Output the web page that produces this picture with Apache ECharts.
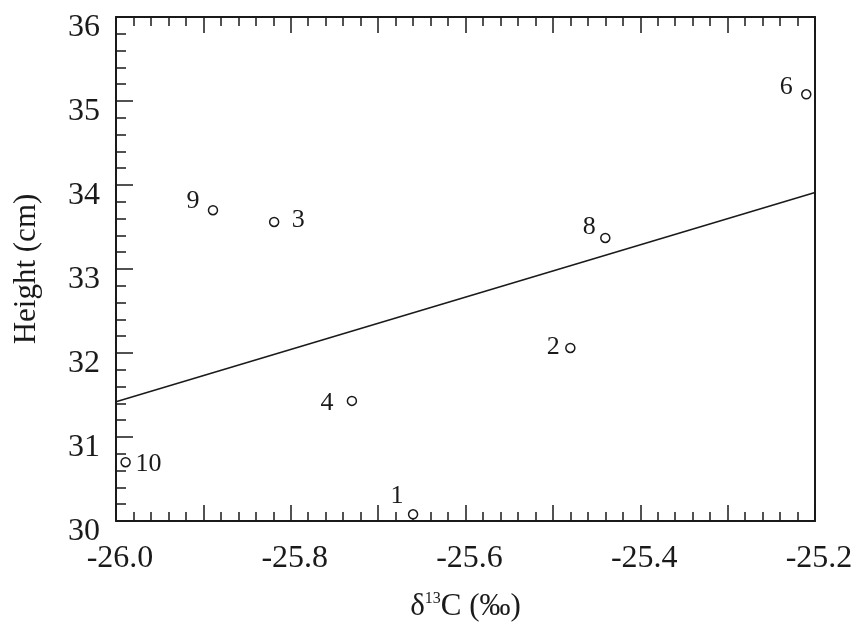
<!DOCTYPE html>
<html>
<head>
<meta charset="utf-8">
<script src="https://cdn.jsdelivr.net/npm/echarts@6/dist/echarts.min.js"></script>
<style>
  html, body { margin: 0; padding: 0; background: #fff; }
  #chart { width: 853px; height: 628px; }
</style>
</head>
<body>
<div id="chart"></div>
<script>
// sample numbers, d13C values and heights
const sampleIds = ['1', '2', '3', '4', '6', '8', '9', '10'];
const d13C = [-25.660, -25.480, -25.819, -25.730, -25.210, -25.440, -25.889, -25.989];
const heights = [30.08, 32.06, 33.56, 31.43, 35.08, 33.37, 33.70, 30.70];

// regression line end points
const fitX = [-26.0, -25.2];
const fitY = [31.42, 33.91];

const FONT = '"Liberation Serif", "Times New Roman", serif';
const INK = '#1a1a1a';

// where each number sits next to its circle
const labelOffsets = {
  '1': [-16, -18],
  '2': [-17, -1],
  '3': [24, -2],
  '4': [-25, 2],
  '6': [-20, -7],
  '8': [-16, -11],
  '9': [-20, -9],
  '10': [23, 2],
};

const chart = echarts.init(document.getElementById('chart'));

const points = sampleIds.map((id, i) => ({
  name: id,
  value: [d13C[i], heights[i]],
  label: { offset: labelOffsets[id] },
}));

const line = fitX.map((x, i) => [x, fitY[i]]);

const axisLine = { show: true, lineStyle: { color: INK, width: 2 } };

const option = {
  animation: false,
  backgroundColor: '#fff',
  grid: { left: 116, right: 38, top: 17, bottom: 107, containLabel: false, outerBoundsMode: 'none' },
  xAxis: [
    {
      type: 'value',
      min: -26.0,
      max: -25.2,
      interval: 0.1,
      position: 'bottom',
      name: '{d|δ}{s|13}{d|C (‰)}',
      nameLocation: 'middle',
      nameGap: 70,
      nameTextStyle: {
        rich: {
          d: { fontFamily: FONT, fontSize: 31, color: INK },
          s: { fontFamily: FONT, fontSize: 16, color: INK, verticalAlign: 'top', padding: [0, 0, 10, 0] },
        },
      },
      axisLine,
      axisTick: { show: true, inside: true, length: 16, lineStyle: { color: INK, width: 1.5 } },
      minorTick: { show: true, splitNumber: 5, length: 9, lineStyle: { color: INK, width: 1.5 } },
      splitLine: { show: false },
      axisLabel: {
        margin: 22,
        color: INK,
        formatter: v => (Math.round(v * 10) % 2 === 0 ? '{t|' + v.toFixed(1) + '}' : ''),
        rich: {
          t: { fontFamily: FONT, fontSize: 32, color: INK, padding: [0, 0, 0, 8] },
        },
      },
    },
    {
      type: 'value',
      min: -26.0,
      max: -25.2,
      interval: 0.1,
      position: 'top',
      axisLine,
      axisTick: { show: true, inside: true, length: 16, lineStyle: { color: INK, width: 1.5 } },
      minorTick: { show: true, splitNumber: 5, length: 9, lineStyle: { color: INK, width: 1.5 } },
      splitLine: { show: false },
      axisLabel: { show: false },
    },
  ],
  yAxis: [
    {
      type: 'value',
      min: 30,
      max: 36,
      interval: 1,
      position: 'left',
      name: 'Height (cm)',
      nameLocation: 'middle',
      nameGap: 74,
      nameTextStyle: { fontFamily: FONT, fontSize: 31, color: INK },
      axisLine,
      axisTick: { show: true, inside: true, length: 17, lineStyle: { color: INK, width: 1.5 } },
      minorTick: { show: true, splitNumber: 5, length: 10, lineStyle: { color: INK, width: 1.5 } },
      splitLine: { show: false },
      axisLabel: {
        margin: 16,
        fontFamily: FONT,
        fontSize: 32,
        color: INK,
        verticalAlign: 'top',
        lineHeight: 22,
      },
    },
    {
      type: 'value',
      min: 30,
      max: 36,
      position: 'right',
      axisLine,
      axisTick: { show: false },
      splitLine: { show: false },
      axisLabel: { show: false },
    },
  ],
  series: [
    {
      type: 'line',
      data: line,
      symbol: 'none',
      lineStyle: { color: INK, width: 1.6 },
      silent: true,
    },
    {
      type: 'scatter',
      data: points,
      symbol: 'circle',
      symbolSize: 9,
      itemStyle: { color: '#fff', borderColor: INK, borderWidth: 1.5, opacity: 1 },
      label: {
        show: true,
        position: 'inside',
        formatter: '{b}',
        fontFamily: FONT,
        fontSize: 26,
        color: INK,
      },
    },
  ],
};

chart.setOption(option);
</script>
</body>
</html>
